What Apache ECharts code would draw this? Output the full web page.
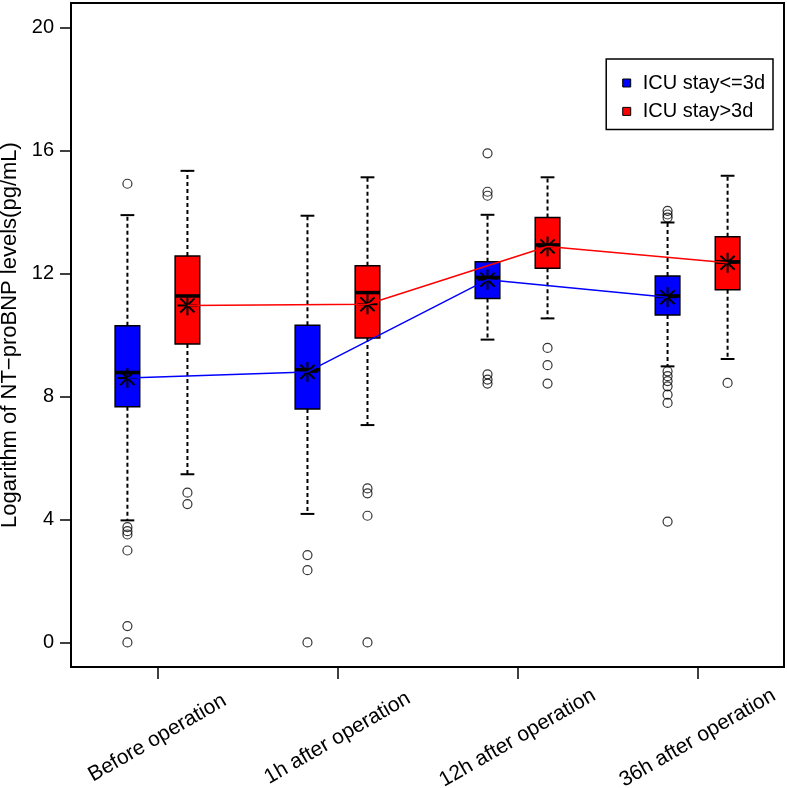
<!DOCTYPE html>
<html><head><meta charset="utf-8">
<script src="https://cdn.jsdelivr.net/npm/echarts@6/dist/echarts.min.js"></script>
<style>html,body{margin:0;padding:0;background:#fff}#c{width:787px;height:788px}</style>
</head><body><div id="c"></div>
<script>
// ---- data ----
const categories = ['Before operation', '1h after operation', '12h after operation', '36h after operation'];
const yTicks = [0, 4, 8, 12, 16, 20];
const yTitle = 'Logarithm of NT\u2212proBNP levels(pg/mL)';
const seriesNames = ['ICU stay<=3d', 'ICU stay>3d'];
// [lower whisker, Q1, median, Q3, upper whisker]
const shortStayBoxes = [
  [3.97, 7.67, 8.78, 10.30, 13.90],
  [4.18, 7.59, 8.87, 10.32, 13.88],
  [9.85, 11.19, 11.87, 12.38, 13.91],
  [8.98, 10.65, 11.27, 11.92, 13.66]
];
const shortStayMeans = [8.60, 8.80, 11.80, 11.23];
const shortStayOutliers = [
  [14.92, 3.75, 3.62, 3.51, 2.99, 0.53, 0.0],
  [2.84, 2.35, 0.0],
  [15.91, 14.66, 14.53, 8.72, 8.55, 8.42],
  [14.04, 13.92, 13.82, 8.82, 8.66, 8.50, 8.33, 8.06, 7.79, 3.93]
];
const longStayBoxes = [
  [5.47, 9.71, 11.27, 12.57, 15.34],
  [7.07, 9.90, 11.38, 12.25, 15.13],
  [10.54, 12.17, 12.93, 13.82, 15.13],
  [9.22, 11.47, 12.38, 13.20, 15.18]
];
const longStayMeans = [10.96, 11.00, 12.88, 12.35];
const longStayOutliers = [
  [4.87, 4.50],
  [5.01, 4.85, 4.12, 0.0],
  [9.58, 9.02, 8.42],
  [8.44]
];

// ---- layout helpers ----
const BOX_W = 0.41;           // box width in axis units
const pos = (i, g) => 3 * i + 1 + g;   // box position on the x scale
const groupColors = ['#0000FF', '#FF0000'];
const groups = [
  {boxes: shortStayBoxes, means: shortStayMeans, outliers: shortStayOutliers},
  {boxes: longStayBoxes, means: longStayMeans, outliers: longStayOutliers}
];

function renderBox(params, api) {
  const x = api.value(0);
  const c = v => api.coord([x, v]);
  const lo = c(api.value(1)), q1 = c(api.value(2)), md = c(api.value(3)),
        q3 = c(api.value(4)), hi = c(api.value(5)), mn = c(api.value(6));
  const cx = lo[0];
  const hw = api.size([BOX_W, 0])[0] / 2;
  const capW = hw * 0.56;
  const color = api.visual('color');
  const dash = {stroke: '#000', lineWidth: 2, lineDash: [4, 3], fill: null};
  const solid = {stroke: '#000', lineWidth: 2, fill: null};
  const ch = [
    {type: 'line', shape: {x1: cx, y1: q3[1], x2: cx, y2: hi[1]}, style: dash},
    {type: 'line', shape: {x1: cx, y1: q1[1], x2: cx, y2: lo[1]}, style: dash},
    {type: 'line', shape: {x1: cx - capW, y1: hi[1], x2: cx + capW, y2: hi[1]}, style: solid},
    {type: 'line', shape: {x1: cx - capW, y1: lo[1], x2: cx + capW, y2: lo[1]}, style: solid},
    {type: 'rect', shape: {x: cx - hw, y: q3[1], width: 2 * hw, height: q1[1] - q3[1]},
      style: {fill: color, stroke: '#000', lineWidth: 1.5}},
    {type: 'line', shape: {x1: cx - hw, y1: md[1], x2: cx + hw, y2: md[1]}, style: {stroke: '#000', lineWidth: 3.5}}
  ];
  const r = 10;
  for (let k = 0; k < 4; k++) {
    const a = k * Math.PI / 4;
    ch.push({type: 'line', shape: {
      x1: cx - r * Math.cos(a), y1: mn[1] - r * Math.sin(a),
      x2: cx + r * Math.cos(a), y2: mn[1] + r * Math.sin(a)},
      style: {stroke: '#000', lineWidth: 2}});
  }
  return {type: 'group', children: ch};
}

const series = [];
groups.forEach((g, gi) => {
  series.push({
    name: seriesNames[gi] + ' outliers',
    type: 'scatter',
    z: 2,
    symbol: 'circle',
    symbolSize: 9,
    itemStyle: {color: 'rgba(0,0,0,0)', borderColor: '#000', borderWidth: 1.2},
    data: g.outliers.flatMap((arr, i) => arr.map(v => [pos(i, gi), v])),
    silent: true
  });
});
groups.forEach((g, gi) => {
  series.push({
    name: seriesNames[gi],
    type: 'custom',
    z: 3,
    itemStyle: {color: groupColors[gi]},
    renderItem: renderBox,
    encode: {x: 0, y: [1, 2, 3, 4, 5, 6]},
    data: g.boxes.map((b, i) => [pos(i, gi), ...b, g.means[i]])
  });
});
groups.forEach((g, gi) => {
  series.push({
    name: seriesNames[gi] + ' mean',
    type: 'line',
    z: 4,
    symbol: 'none',
    lineStyle: {color: groupColors[gi], width: 1.5},
    data: g.means.map((m, i) => [pos(i, gi), m]),
    silent: true
  });
});

const chart = echarts.init(document.getElementById('c'), null, {renderer: 'canvas'});
const font = 'Liberation Sans, Arial, Helvetica, sans-serif';
chart.setOption({
  animation: false,
  backgroundColor: '#fff',
  textStyle: {fontFamily: font},
  grid: {left: 71, right: 3, top: 3, bottom: 121, containLabel: false, outerBoundsMode: 'none',
    show: true, borderColor: '#000', borderWidth: 2, backgroundColor: 'transparent'},
  legend: {
    data: seriesNames,
    orient: 'vertical',
    right: 14, top: 59,
    icon: 'rect',
    itemWidth: 8, itemHeight: 8,
    itemGap: 8.4,
    padding: [14, 8, 8, 16],
    backgroundColor: '#fff',
    borderColor: '#000', borderWidth: 1.5,
    itemStyle: {borderColor: '#000', borderWidth: 1},
    textStyle: {fontSize: 20, color: '#000', fontFamily: font, padding: [0, 0, 0, 7]},
    selectedMode: false
  },
  xAxis: {
    type: 'value',
    min: 0.06, max: 11.94,
    splitLine: {show: false},
    axisLine: {show: false, onZero: false},
    axisTick: {show: true, length: 12, lineStyle: {color: '#000', width: 1.5},
      customValues: categories.map((c, i) => 3 * i + 1.5)},
    axisLabel: {
      customValues: categories.map((c, i) => 3 * i + 1.5),
      formatter: v => categories[Math.round((v - 1.5) / 3)],
      rotate: 30, align: 'center', verticalAlign: 'middle', margin: 71,
      fontSize: 21, color: '#000', fontFamily: font
    }
  },
  yAxis: {
    type: 'value',
    min: -0.8, max: 20.8,
    name: yTitle,
    nameLocation: 'middle',
    nameGap: 44,
    nameTextStyle: {fontSize: 22, color: '#000', fontFamily: font},
    splitLine: {show: false},
    axisLine: {show: false, onZero: false},
    axisTick: {show: true, length: 11, lineStyle: {color: '#000', width: 1.5}, customValues: yTicks},
    axisLabel: {customValues: yTicks, margin: 17, fontSize: 20, color: '#000', fontFamily: font}
  },
  series: series
});
</script></body></html>
